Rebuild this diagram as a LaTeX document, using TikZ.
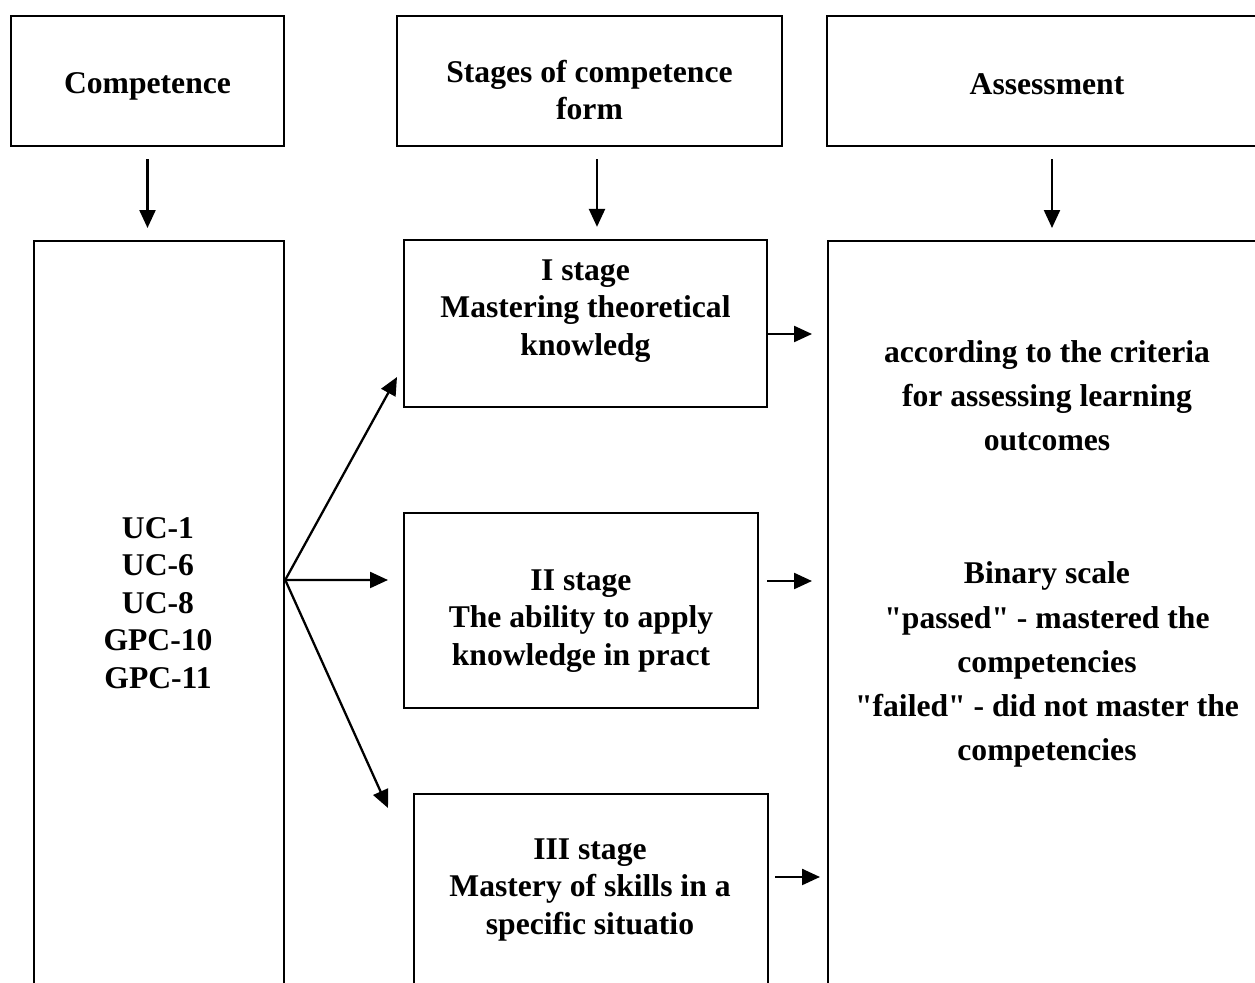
\documentclass[tikz,border=0pt]{standalone}
\usepackage{fontspec}
\setmainfont{Liberation Serif}
\usepackage{tikz}
\usetikzlibrary{arrows.meta}
\usetikzlibrary{positioning}

\begin{document}
\begin{tikzpicture}[x=0.02cm,y=-0.02cm,>={Triangle[length=0.36cm,width=0.32cm]},
                    line width=1.3pt,
                    box/.style={draw,rectangle,inner sep=0pt},
                    txt/.style={inner sep=0pt,align=center,
                                font=\bfseries\fontsize{18}{21.3}\selectfont},
                    arr/.style={->,shorten >=0.3cm}]

  \useasboundingbox (0,0) rectangle (1255,983);
  \clip (0,0) rectangle (1255,983);

  % top row
  \node[box,minimum width=5.46cm,minimum height=2.6cm] (comp) at (147.5,81) {};
  \node[box,minimum width=7.7cm,minimum height=2.6cm] (stages) at (589.5,81) {};
  \node[box,minimum width=8.8cm,minimum height=2.6cm] (assess) at (1047,81) {};
  \node[txt] (comptxt) at (147.5,86) {Competence};
  \node[txt] (stagestxt) at (589.5,90) {Stages of competence\\form};
  \node[txt] (assesstxt) at (1047,84) {Assessment};

  % competences
  \node[box,anchor=north west,minimum width=5cm,minimum height=16cm] (list) at (33,240) {};
  \node[txt] (listtxt) at (158,603) {UC-1\\UC-6\\UC-8\\GPC-10\\GPC-11};

  % stages
  \node[box,minimum width=7.26cm,minimum height=3.34cm] (stage1) at (585.5,323.5) {};
  \node[txt] (stage1txt) at (585.5,311) {I stage\\Mastering theoretical\\knowledg};
  \node[box,minimum width=7.08cm,minimum height=3.9cm] (stage2) at (581,610.5) {};
  \node[txt] (stage2txt) at (581,621) {II stage\\The ability to apply\\knowledge in pract};
  \node[box,anchor=north west,minimum width=7.08cm,minimum height=5cm] (stage3) at (413,793) {};
  \node[txt] (stage3txt) at (590,890) {III stage\\Mastery of skills in a\\specific situatio};

  % assessment
  \node[box,anchor=north west,minimum width=10cm,minimum height=16cm] (crit) at (827,240) {};
  \node[txt,font=\bfseries\fontsize{18}{25.2}\selectfont] (crittxt) at (1047,554)
       {according to the criteria\\for assessing learning\\outcomes\\[50.4pt]
        Binary scale\\\textquotedbl passed\textquotedbl{} - mastered the\\competencies\\
        \textquotedbl failed\textquotedbl{} - did not master the\\competencies};

  % arrows down
  \draw[arr,shorten <=0.24cm,shorten >=0.24cm] (comp.south) -- (comp.south |- list.north);
  \path ([xshift=0.15cm]stages.south) coordinate (d2);
  \draw[arr,shorten <=0.24cm,shorten >=0.24cm] (d2) -- (d2 |- stage1.north);
  \path ([xshift=0.1cm]assess.south) coordinate (d3);
  \draw[arr,shorten <=0.24cm,shorten >=0.24cm] (d3) -- (d3 |- crit.north);

  % fan
  \path ([yshift=-6.8cm]list.north east) coordinate (hub);
  \coordinate (t1) at (397,377);
  \coordinate (t2) at (388,580);
  \coordinate (t3) at (388,808);
  \draw[->] (hub) -- (t1);
  \draw[->] (hub) -- (t2);
  \draw[->] (hub) -- (t3);

  % to assessment
  \path ([yshift=-0.21cm]stage1.east) coordinate (s1);
  \path ([xshift=0.16cm,yshift=0.59cm]stage2.east) coordinate (s2);
  \path ([xshift=0.12cm,yshift=-1.68cm]stage3.north east) coordinate (s3);
  \draw[arr] (s1) -- (s1 -| crit.west);
  \draw[arr] (s2) -- (s2 -| crit.west);
  \draw[->,shorten >=0.14cm] (s3) -- (s3 -| crit.west);
\end{tikzpicture}
\end{document}
